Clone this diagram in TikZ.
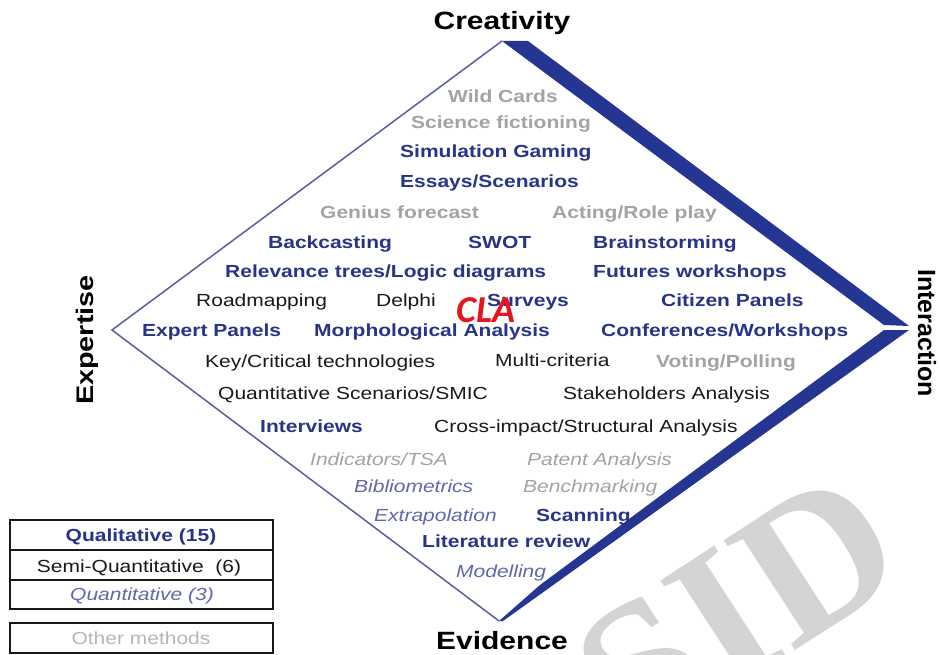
\documentclass[tikz,border=0pt]{standalone}
\usepackage{fontspec}
\setmainfont{Liberation Sans}[FakeStretch=1.2]
\newfontfamily\plainsans{Liberation Sans}
\newfontfamily\clafont{Carlito}
\newfontfamily\wmfont{Liberation Serif}
\definecolor{qblue}{RGB}{40,52,135}
\definecolor{nblue}{RGB}{98,103,172}
\definecolor{ogray}{RGB}{163,163,163}
\definecolor{lgray}{RGB}{182,182,182}
\definecolor{sblack}{RGB}{25,25,25}
\definecolor{bandblue}{RGB}{36,54,145}
\definecolor{edgeblue}{RGB}{88,94,160}
\definecolor{clared}{RGB}{230,20,28}
\definecolor{wmgray}{RGB}{212,212,212}
\tikzset{
  txt/.style={anchor=base west, inner sep=0pt, font=\fontsize{17.5}{20}\selectfont},
  qual/.style={txt, text=qblue, font=\fontsize{17.5}{20}\selectfont\bfseries},
  semi/.style={txt, text=sblack},
  quant/.style={txt, text=nblue, font=\fontsize{17.5}{20}\selectfont\itshape},
  oth/.style={txt, text=ogray, font=\fontsize{17.5}{20}\selectfont\bfseries},
  othi/.style={txt, text=ogray, font=\fontsize{17.5}{20}\selectfont\itshape},
  axislabel/.style={inner sep=0pt, text=black, font=\fontsize{25}{28}\selectfont\bfseries},
  band/.style={fill=bandblue},
  thinedge/.style={draw=edgeblue, line width=1.5pt},
  legendbox/.style={draw=sblack, line width=1.6pt},
  legtext/.style={anchor=base, inner sep=0pt, font=\fontsize{17.5}{20}\selectfont}
}
\begin{document}
\begin{tikzpicture}[x=1pt,y=-1pt]
\useasboundingbox[fill=white] (0,0) rectangle (940,655);

% watermark
\node[rotate=33, text=wmgray, inner sep=0pt, font=\wmfont\bfseries\fontsize{200}{200}\selectfont] (wm) at (738,610) {SID};

% diamond
\coordinate (top) at (502,41);
\coordinate (left) at (112,330);
\coordinate (bottom) at (499,621);
\coordinate (right) at (909,328);
\fill[band] (top) -- (528,41) -- (909,326) -- (884,325) -- cycle;
\fill[band] (884,330) -- (909,330) -- (503,621) -- (bottom) -- (540,585) -- cycle;
\draw[thinedge, line join=miter] (top) -- (left) -- (bottom);

% axis labels
\node[axislabel] (creativity) at (502,23) {Creativity};
\node[axislabel] (evidence) at (502,641) {Evidence};
\node[axislabel, rotate=90, font=\fontsize{24}{28}\selectfont\bfseries] (expertise) at (87,340) {Expertise};
\node[axislabel, rotate=-90, font=\plainsans\fontsize{25}{28}\selectfont\bfseries] (interaction) at (927,333) {Interaction};

% methods
\node[oth] (wild) at (448,103) {Wild Cards};
\node[oth] (scifi) at (411,129) {Science fictioning};
\node[qual] (simgame) at (400,158) {Simulation Gaming};
\node[qual] (essays) at (400,188) {Essays/Scenarios};
\node[oth] (genius) at (320,219) {Genius forecast};
\node[oth] (acting) at (552,219) {Acting/Role play};
\node[qual] (backcast) at (268,249) {Backcasting};
\node[qual] (swot) at (468,249) {SWOT};
\node[qual] (brain) at (593,249) {Brainstorming};
\node[qual] (relev) at (225,277) {Relevance trees/Logic diagrams};
\node[qual] (futws) at (593,277) {Futures workshops};
\node[semi] (roadmap) at (196,306) {Roadmapping};
\node[semi] (delphi) at (376,306) {Delphi};
\node[qual] (surveys) at (487,306) {Surveys};
\node[qual] (citizen) at (661,306) {Citizen Panels};
\node[qual] (expert) at (142,336) {Expert Panels};
\node[qual] (morph) at (314,336) {Morphological Analysis};
\node[qual] (confws) at (601,336) {Conferences/Workshops};
\node[semi] (keycrit) at (205,367) {Key/Critical technologies};
\node[semi] (multi) at (495,366) {Multi-criteria};
\node[oth] (voting) at (656,367) {Voting/Polling};
\node[semi] (quantscen) at (218,399) {Quantitative Scenarios/SMIC};
\node[semi] (stake) at (563,399) {Stakeholders Analysis};
\node[qual] (interv) at (260,432) {Interviews};
\node[semi] (cross) at (434,432) {Cross-impact/Structural Analysis};
\node[othi] (indic) at (310,465) {Indicators/TSA};
\node[othi] (patent) at (527,465) {Patent Analysis};
\node[quant] (biblio) at (354,492) {Bibliometrics};
\node[othi] (bench) at (523,492) {Benchmarking};
\node[quant] (extrap) at (374,521) {Extrapolation};
\node[qual] (scan) at (536,521) {Scanning};
\node[qual] (litrev) at (422,547) {Literature review};
\node[quant] (model) at (456,577) {Modelling};

% CLA
\node[anchor=base, inner sep=0pt, text=clared, font=\clafont\bfseries\itshape\fontsize{38}{40}\selectfont] (cla) at (486,322) {CLA};

% legend
\draw[legendbox] (10,520) rectangle (273,609);
\draw[legendbox] (10,550) -- (273,550);
\draw[legendbox] (10,580) -- (273,580);
\draw[legendbox] (10,623) rectangle (273,653);
\node[legtext, text=qblue, font=\fontsize{17.5}{20}\selectfont\bfseries] (legq) at (141,541) {Qualitative (15)};
\node[legtext, text=sblack] (legs) at (139,572) {Semi-Quantitative~~(6)};
\node[legtext, text=nblue, font=\fontsize{17.5}{20}\selectfont\itshape] (legn) at (142,600) {Quantitative (3)};
\node[legtext, text=lgray] (lego) at (141,644) {Other methods};
\end{tikzpicture}
\end{document}
